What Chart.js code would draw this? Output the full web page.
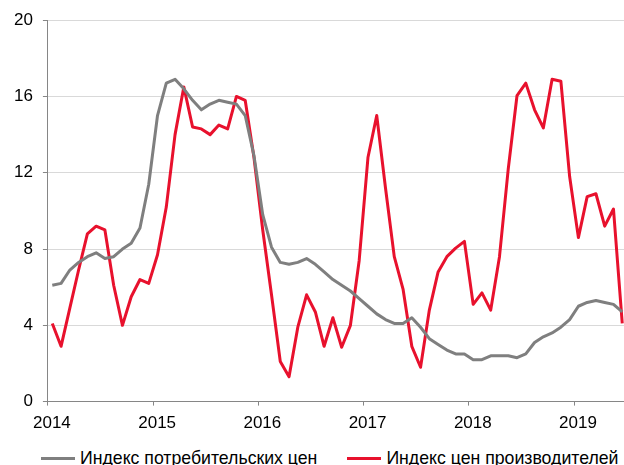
<!DOCTYPE html>
<html>
<head>
<meta charset="utf-8">
<script src="https://cdn.jsdelivr.net/npm/chart.js@4.4.1/dist/chart.umd.min.js"></script>
<style>
  html, body { margin: 0; padding: 0; background: #fff; overflow: hidden; }
  #wrap { position: relative; width: 624px; height: 465px; }
  #box { position: absolute; left: 0; top: 0; width: 624px; height: 442px; }
  #legend {
    position: absolute; left: 41px; top: 447px; height: 22px;
    display: flex; align-items: center;
    font-family: "Liberation Sans", Arial, sans-serif; font-size: 17.7px; color: #000;
  }
  #legend .item { display: flex; align-items: center; white-space: nowrap; }
  #legend .item + .item { margin-left: 30px; }
  #legend .line { width: 34px; height: 3px; margin-right: 5px; }
</style>
</head>
<body>
<div id="wrap">
  <div id="box"><canvas id="chart"></canvas></div>
  <div id="legend"></div>
</div>
<script>
// Месяцы: январь 2014 - июнь 2019
const months = [];
for (let y = 2014; y <= 2019; y++) {
    for (let m = 1; m <= 12; m++) {
        if (y === 2019 && m > 6) break;
        months.push(y + '-' + String(m).padStart(2, '0'));
    }
}

const yearLabels = ['2014', '2015', '2016', '2017', '2018', '2019'];

// Индекс потребительских цен, % г/г
const cpi = [
    6.1, 6.2, 6.9, 7.3, 7.6, 7.8, 7.5, 7.6, 8.0, 8.3, 9.1, 11.4,
    15.0, 16.7, 16.9, 16.4, 15.8, 15.3, 15.6, 15.8, 15.7, 15.6, 15.0, 12.9,
    9.8, 8.1, 7.3, 7.2, 7.3, 7.5, 7.2, 6.8, 6.4, 6.1, 5.8, 5.4,
    5.0, 4.6, 4.3, 4.1, 4.1, 4.4, 3.9, 3.3, 3.0, 2.7, 2.5, 2.5,
    2.2, 2.2, 2.4, 2.4, 2.4, 2.3, 2.5, 3.1, 3.4, 3.6, 3.9, 4.3,
    5.0, 5.2, 5.3, 5.2, 5.1, 4.7
];

// Индекс цен производителей, % г/г
const ppi = [
    4.1, 2.9, 4.9, 6.9, 8.8, 9.2, 9.0, 6.1, 4.0, 5.5, 6.4, 6.2,
    7.7, 10.2, 14.0, 16.5, 14.4, 14.3, 14.0, 14.5, 14.3, 16.0, 15.8, 12.8,
    9.0, 5.6, 2.1, 1.3, 3.9, 5.6, 4.7, 2.9, 4.4, 2.85, 4.0, 7.4,
    12.8, 15.0, 11.2, 7.6, 5.9, 2.9, 1.8, 4.8, 6.8, 7.6, 8.05, 8.4,
    5.1, 5.7, 4.8, 7.6, 12.2, 16.05, 16.7, 15.3, 14.35, 16.9, 16.8, 11.8,
    8.6, 10.75, 10.9, 9.2, 10.1, 4.1
];

const yTicks = [0, 4, 8, 12, 16, 20];

const seriesNames = ['Индекс потребительских цен', 'Индекс цен производителей'];
const seriesColors = ['#7f7f7f', '#e8112d'];

const axisColor = '#868686';
const gridColor = '#d9d9d9';
const font = { family: '"Liberation Sans", Arial, sans-serif', size: 17 };

function toPoints(values) {
    return values.map((v, i) => ({ x: i, y: v }));
}

new Chart(document.getElementById('chart'), {
    type: 'line',
    data: {
        datasets: [
            { label: seriesNames[0], data: toPoints(cpi), borderColor: seriesColors[0], backgroundColor: seriesColors[0] },
            { label: seriesNames[1], data: toPoints(ppi), borderColor: seriesColors[1], backgroundColor: seriesColors[1] }
        ]
    },
    options: {
        responsive: true,
        maintainAspectRatio: false,
        animation: false,
        layout: { padding: { left: 4, top: 13, right: 0, bottom: 0 } },
        elements: {
            line: { borderWidth: 3, tension: 0, borderJoinStyle: 'round' },
            point: { radius: 0 }
        },
        scales: {
            x: {
                type: 'linear',
                min: -0.5,
                max: 65.2,
                afterBuildTicks: (scale) => {
                    // деления на границах лет
                    scale.ticks = yearLabels.map((_, k) => ({ value: -0.5 + 12 * k }));
                },
                grid: { drawOnChartArea: false, tickLength: 4, color: axisColor },
                border: { color: axisColor },
                ticks: {
                    font: font, color: '#000', padding: 8, labelOffset: 4,
                    maxRotation: 0, autoSkip: false,
                    callback: (value, index) => yearLabels[index]
                }
            },
            y: {
                min: 0,
                max: 20,
                afterBuildTicks: (scale) => {
                    scale.ticks = yTicks.map(v => ({ value: v }));
                },
                grid: { color: gridColor, tickColor: axisColor, tickLength: 5 },
                border: { color: axisColor },
                ticks: { font: font, color: '#000', padding: 10 }
            }
        },
        plugins: {
            legend: { display: false },
            tooltip: { enabled: false }
        }
    }
});

// Легенда под графиком
const legend = document.getElementById('legend');
seriesNames.forEach((name, i) => {
    const item = document.createElement('div');
    item.className = 'item';
    item.innerHTML = '<span class="line" style="background:' + seriesColors[i] + '"></span><span>' + name + '</span>';
    legend.appendChild(item);
});
</script>
</body>
</html>
